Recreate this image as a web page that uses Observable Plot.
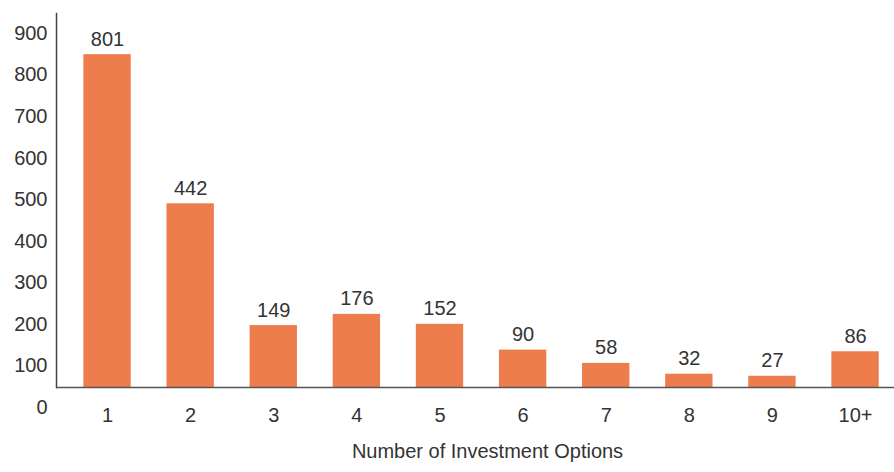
<!DOCTYPE html>
<html>
<head>
<meta charset="utf-8">
<script src="https://cdn.jsdelivr.net/npm/d3@7"></script>
<script src="https://cdn.jsdelivr.net/npm/@observablehq/plot@0.6"></script>
<style>
  html, body { margin: 0; padding: 0; background: #fff; }
  #chart { width: 894px; height: 472px; overflow: hidden; }
</style>
</head>
<body>
<div id="chart"></div>
<script>
const categories = ["1", "2", "3", "4", "5", "6", "7", "8", "9", "10+"];
const counts = [801, 442, 149, 176, 152, 90, 58, 32, 27, 86];
const yTicks = [0, 100, 200, 300, 400, 500, 600, 700, 800, 900];
const xTitle = "Number of Investment Options";

const data = categories.map((c, i) => ({ option: c, count: counts[i] }));

const chart = Plot.plot({
  width: 894,
  height: 472,
  marginLeft: 56,
  marginRight: 0,
  marginTop: 13,
  marginBottom: 85,
  style: {
    fontFamily: "'Liberation Sans', Arimo, Arial, sans-serif",
    fontSize: "20px",
    color: "#333",
    background: "#fff"
  },
  x: {
    domain: categories, round: false,
    paddingInner: 0.43, paddingOuter: 0.215,
    insetLeft: 9.5, insetRight: -2.6, label: null
  },
  y: { domain: [0, 900], label: null },
  marks: [
    Plot.barY(data, { x: "option", y: "count", fill: "#EE7D4E" }),
    Plot.text(data, {
      x: "option", y: "count", text: d => String(d.count),
      lineAnchor: "bottom", dy: -9, fontSize: 20, fill: "#333"
    }),
    Plot.ruleY([0], { stroke: "#555", strokeWidth: 1.5 }),
    Plot.frame({ anchor: "left", stroke: "#444", strokeWidth: 1.5 }),
    Plot.axisY({ ticks: yTicks, tickSize: 0, tickPadding: 9, dy: 20, label: null, fontSize: 20 }),
    Plot.axisX({ tickSize: 0, tickPadding: 20, label: null, fontSize: 20 }),
    Plot.text([xTitle], { frameAnchor: "bottom", dy: 70, dx: 12, fontSize: 20, fill: "#333" })
  ]
});

document.getElementById("chart").appendChild(chart);
</script>
</body>
</html>
